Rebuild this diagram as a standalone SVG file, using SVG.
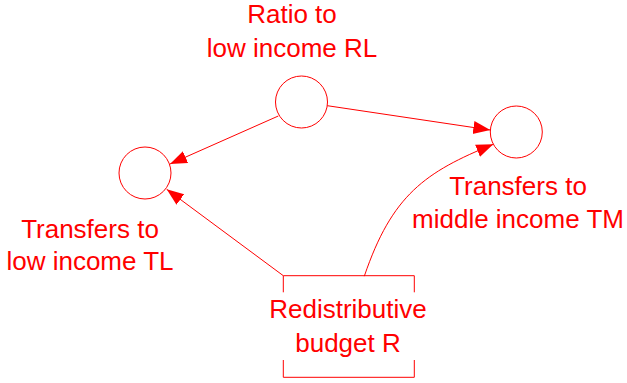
<svg xmlns="http://www.w3.org/2000/svg" width="627" height="383" viewBox="0 0 627 383">
<style>
.node{fill:none;stroke:#ff0000;stroke-width:1}
.lbl{font-family:"Liberation Sans",Arial,sans-serif;font-size:26px;fill:#ff0000;text-anchor:middle}
.link{fill:none;stroke:#ff0000;stroke-width:1;marker-end:url(#ah)}
</style>
<defs>
<marker id="ah" markerUnits="userSpaceOnUse" markerWidth="18" markerHeight="14" refX="17" refY="6.5" orient="auto">
<path d="M0,0 L17,6.5 L0,13 z" fill="#ff0000"/>
</marker>
</defs>
<rect width="627" height="383" fill="#ffffff"/>
<g id="connectors">
<line class="link" x1="327.3" y1="105.7" x2="490.3" y2="130"/>
<line class="link" x1="278.3" y1="116" x2="170" y2="164"/>
<line class="link" x1="283.3" y1="275.7" x2="166.7" y2="189.3"/>
<path class="link" d="M364.3,276.2 C392,195 425,172 493.3,144.3"/>
</g>
<g id="RL">
<circle class="node" cx="301.5" cy="102" r="26"/>
<text class="lbl" x="292" y="23">Ratio to</text>
<text class="lbl" x="292" y="57">low income RL</text>
</g>
<g id="TL">
<circle class="node" cx="145" cy="173" r="26"/>
<text class="lbl" x="90" y="238">Transfers to</text>
<text class="lbl" x="90" y="270">low income TL</text>
</g>
<g id="TM">
<circle class="node" cx="516.3" cy="132" r="26"/>
<text class="lbl" x="518" y="195">Transfers to</text>
<text class="lbl" x="518" y="228">middle income TM</text>
</g>
<g id="R">
<path class="node" d="M283.3,292.3 V275.7 H414.3 V292.3 M283.3,360 V377.3 H414.3 V360"/>
<text class="lbl" x="348" y="318">Redistributive</text>
<text class="lbl" x="348" y="351.5">budget R</text>
</g>
</svg>
